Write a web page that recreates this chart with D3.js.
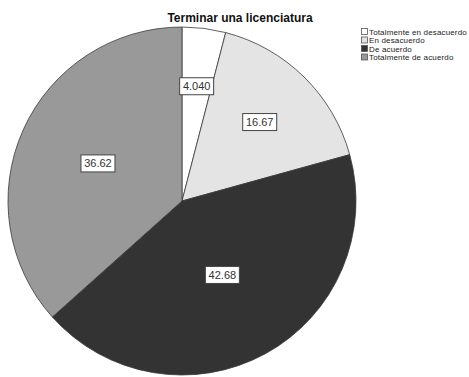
<!DOCTYPE html>
<html>
<head>
<meta charset="utf-8">
<script src="https://cdn.jsdelivr.net/npm/d3@7/dist/d3.min.js"></script>
<style>
  html, body { margin: 0; padding: 0; background: #fff; }
  svg { display: block; font-family: Arial, "Liberation Sans", sans-serif; }
</style>
</head>
<body>
<svg id="chart" width="469" height="377"></svg>
<script>
// Response categories and their percentages
const categories = ["Totalmente en desacuerdo", "En desacuerdo", "De acuerdo", "Totalmente de acuerdo"];
const values = [4.040, 16.67, 42.68, 36.62];
const valueLabels = ["4.040", "16.67", "42.68", "36.62"];
const fills = ["#ffffff", "#e4e4e4", "#333333", "#999999"];
const title = "Terminar una licenciatura";

const svg = d3.select("#chart");
const W = 469, H = 377;
const cx = 182, cy = 201, radius = 174;

svg.append("rect").attr("width", W).attr("height", H).attr("fill", "#fff");

// Title
svg.append("text")
  .attr("x", 240).attr("y", 22)
  .attr("text-anchor", "middle")
  .attr("font-size", 12).attr("font-weight", "bold")
  .attr("fill", "#111")
  .text(title);

const data = categories.map((c, i) => ({ cat: c, value: values[i], label: valueLabels[i], fill: fills[i] }));

const pie = d3.pie().sort(null).value(d => d.value);
const arcs = pie(data);
const arc = d3.arc().innerRadius(0).outerRadius(radius);

// Labels sit at the area centroid of each sector
function sectorCentroid(d) {
  const half = (d.endAngle - d.startAngle) / 2;
  const mid = d.startAngle + half;
  const dist = (2 * radius * Math.sin(half)) / (3 * half);
  return [dist * Math.sin(mid), -dist * Math.cos(mid)];
}

const g = svg.append("g").attr("transform", `translate(${cx},${cy})`);

g.selectAll("path.slice")
  .data(arcs)
  .join("path")
  .attr("class", "slice")
  .attr("d", arc)
  .attr("fill", d => d.data.fill)
  .attr("stroke", "#3a3a3a")
  .attr("stroke-width", 0.8);

// Value labels in white boxes
const lab = g.selectAll("g.lab")
  .data(arcs)
  .join("g")
  .attr("class", "lab")
  .attr("transform", d => `translate(${sectorCentroid(d)})`);

lab.append("rect")
  .attr("x", -17).attr("y", -8.5)
  .attr("width", 34).attr("height", 17)
  .attr("fill", "#fff")
  .attr("stroke", "#444").attr("stroke-width", 1);

lab.append("text")
  .attr("text-anchor", "middle")
  .attr("dy", "0.36em")
  .attr("font-size", 11)
  .attr("fill", "#333")
  .text(d => d.data.label);

// Legend
const legend = svg.append("g").attr("transform", "translate(361,28)");
const rows = legend.selectAll("g.row")
  .data(data)
  .join("g")
  .attr("class", "row")
  .attr("transform", (d, i) => `translate(0,${i * 8.5})`);

rows.append("rect")
  .attr("x", 0.5).attr("y", 0.5)
  .attr("width", 6).attr("height", 6)
  .attr("fill", d => d.fill)
  .attr("stroke", "#555").attr("stroke-width", 0.8);

rows.append("text")
  .attr("x", 8).attr("y", 6.5)
  .attr("font-size", 8)
  .attr("letter-spacing", 0.15)
  .attr("fill", "#222")
  .text(d => d.cat);
</script>
</body>
</html>
